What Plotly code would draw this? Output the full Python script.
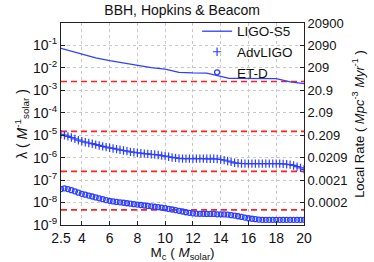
import plotly.graph_objects as go

# ---------------- data ----------------
mc_s5 = [2.5, 3, 4, 5, 6, 7, 8, 9, 10, 11, 12, 13, 14, 14.6, 15, 16, 17, 18, 19, 20]
lam_s5 = [0.074, 0.060, 0.040, 0.028, 0.021, 0.0162, 0.0132, 0.0102, 0.0089, 0.0063,
          0.0060, 0.0059, 0.0042, 0.0034, 0.0034, 0.0034, 0.0034, 0.0033, 0.0024, 0.0020]

mc = [2.5, 2.75, 3.0, 3.25, 3.5, 3.75, 4.0, 4.25, 4.5, 4.75, 5.0, 5.25, 5.5, 5.75,
      6.0, 6.25, 6.5, 6.75, 7.0, 7.25, 7.5, 7.75, 8.0, 8.25, 8.5, 8.75, 9.0, 9.25,
      9.5, 9.75, 10.0, 10.25, 10.5, 10.75, 11.0, 11.25, 11.5, 11.75, 12.0, 12.25,
      12.5, 12.75, 13.0, 13.25, 13.5, 13.75, 14.0, 14.25, 14.5, 14.75, 15.0, 15.25,
      15.5, 15.75, 16.0, 16.25, 16.5, 16.75, 17.0, 17.25, 17.5, 17.75, 18.0, 18.25,
      18.5, 18.75, 19.0, 19.25, 19.5, 19.75, 20.0]

lam_adv = [1.10e-5, 1.00e-5, 8.9e-6, 7.9e-6, 6.9e-6, 6.0e-6, 5.4e-6, 4.9e-6, 4.5e-6,
           4.2e-6, 3.8e-6, 3.5e-6, 3.2e-6, 2.95e-6, 2.75e-6, 2.57e-6, 2.40e-6, 2.24e-6,
           2.09e-6, 1.95e-6, 1.82e-6, 1.74e-6, 1.66e-6, 1.58e-6, 1.51e-6, 1.48e-6,
           1.41e-6, 1.38e-6, 1.32e-6, 1.23e-6, 1.17e-6, 1.10e-6, 1.02e-6, 9.8e-7,
           9.3e-7, 9.1e-7, 9.1e-7, 9.1e-7, 9.1e-7, 9.1e-7, 9.1e-7, 9.1e-7, 8.9e-7,
           8.9e-7, 8.9e-7, 8.7e-7, 8.3e-7, 7.8e-7, 7.1e-7, 6.5e-7, 5.9e-7, 5.6e-7,
           5.5e-7, 5.4e-7, 5.4e-7, 5.4e-7, 5.4e-7, 5.4e-7, 5.4e-7, 5.4e-7, 5.4e-7,
           5.4e-7, 5.4e-7, 5.4e-7, 5.3e-7, 5.1e-7, 4.9e-7, 4.5e-7, 4.0e-7, 3.5e-7,
           3.0e-7]

lam_et = [4.0e-8, 4.3e-8, 4.0e-8, 3.55e-8, 3.16e-8, 2.75e-8, 2.45e-8, 2.24e-8,
          2.04e-8, 1.86e-8, 1.70e-8, 1.55e-8, 1.41e-8, 1.29e-8, 1.20e-8, 1.12e-8,
          1.07e-8, 1.02e-8, 9.8e-9, 9.3e-9, 8.9e-9, 8.5e-9, 8.1e-9, 7.8e-9, 7.4e-9,
          7.1e-9, 6.8e-9, 6.5e-9, 6.2e-9, 5.9e-9, 5.6e-9, 5.2e-9, 4.9e-9, 4.6e-9,
          4.3e-9, 4.0e-9, 3.7e-9, 3.5e-9, 3.3e-9, 3.2e-9, 3.16e-9, 3.16e-9, 3.1e-9,
          3.1e-9, 3.1e-9, 3.0e-9, 3.0e-9, 2.95e-9, 2.9e-9, 2.75e-9, 2.63e-9, 2.45e-9,
          2.29e-9, 2.14e-9, 2.0e-9, 1.9e-9, 1.82e-9, 1.74e-9, 1.70e-9, 1.70e-9,
          1.70e-9, 1.70e-9, 1.70e-9, 1.70e-9, 1.70e-9, 1.70e-9, 1.70e-9, 1.70e-9,
          1.70e-9, 1.70e-9, 1.70e-9]

thresholds = [2.46e-3, 1.48e-5, 2.46e-7, 4.7e-9]
x_ends = [2.5, 20]

left_tickvals = [1e-9, 1e-8, 1e-7, 1e-6, 1e-5, 1e-4, 1e-3, 1e-2, 1e-1]
left_ticktext = ["10<sup>-9</sup>", "10<sup>-8</sup>", "10<sup>-7</sup>", "10<sup>-6</sup>",
                 "10<sup>-5</sup>", "10<sup>-4</sup>", "10<sup>-3</sup>", "10<sup>-2</sup>",
                 "10<sup>-1</sup>"]
right_tickvals = [1e0, 1e-1, 1e-2, 1e-3, 1e-4, 1e-5, 1e-6, 1e-7, 1e-8]
right_ticktext = ["20900", "2090", "209", "20.9", "2.09", "0.209", "0.0209", "0.0021", "0.0002"]
x_tickvals = [2.5, 4, 6, 8, 10, 12, 14, 16, 18, 20]
x_ticktext = ["2.5", "4", "6", "8", "10", "12", "14", "16", "18", "20"]

# ---------------- figure ----------------
BLUE = "#2e40ff"
FONT = "Liberation Sans, Arial, sans-serif"

fig = go.Figure()

for t in thresholds:
    fig.add_trace(go.Scatter(x=x_ends, y=[t, t], mode="lines",
                             line=dict(color="#ff2020", width=1.6, dash="6px,4px"),
                             showlegend=False, hoverinfo="skip"))

fig.add_trace(go.Scatter(x=mc_s5, y=lam_s5, mode="lines", name="LIGO-S5",
                         line=dict(color=BLUE, width=1.3)))
fig.add_trace(go.Scatter(x=mc, y=lam_adv, mode="markers", name="AdvLIGO",
                         marker=dict(symbol="cross-thin", size=6, color=BLUE,
                                     line=dict(color=BLUE, width=1.2))))
fig.add_trace(go.Scatter(x=mc, y=lam_et, mode="markers", name="ET-D",
                         marker=dict(symbol="circle-open", size=5, color=BLUE,
                                     line=dict(color=BLUE, width=1.3))))
# invisible trace to carry the right-hand axis
fig.add_trace(go.Scatter(x=x_ends, y=[thresholds[0], thresholds[0]], yaxis="y2",
                         mode="lines", line=dict(width=0), opacity=0,
                         showlegend=False, hoverinfo="skip"))

axis_common = dict(showline=True, linecolor="#222", linewidth=1, ticks="inside",
                   ticklen=4, tickcolor="#222", gridcolor="#c8c8c8", griddash="dot",
                   gridwidth=1, zeroline=False, automargin=False)

fig.update_layout(
    template="none",
    width=374, height=262,
    margin=dict(l=61, r=70, t=23, b=37, autoexpand=False),
    paper_bgcolor="white", plot_bgcolor="white",
    font=dict(family=FONT, size=14, color="#111"),
    title=dict(text="BBH, Hopkins & Beacom", x=0.487, xanchor="center",
               xref="container", yref="container",
               y=0.962, yanchor="middle", font=dict(size=14, family=FONT)),
    xaxis=dict(range=[2.5, 20], tickvals=x_tickvals, ticktext=x_ticktext,
               mirror=True, showgrid=True,
               title=dict(text="M<sub>c</sub> ( <i>M</i><sub>solar</sub>)", standoff=0,
                          font=dict(size=13.5)),
               tickfont=dict(size=14), **axis_common),
    yaxis=dict(type="log", range=[-9, 0], tickvals=left_tickvals,
               ticktext=left_ticktext, mirror=True, showgrid=True,
               title=dict(text="λ ( <i>M</i><sup>-1</sup><sub>solar</sub> )", standoff=2,
                          font=dict(size=14)),
               tickfont=dict(size=14), **axis_common),
    yaxis2=dict(type="log", range=[-9, 0], overlaying="y", side="right",
                tickvals=right_tickvals, ticktext=right_ticktext, showgrid=False,
                showline=True, linecolor="#222", ticks="inside", ticklen=4,
                tickcolor="#222", zeroline=False, tickfont=dict(size=13),
                automargin=False,
                title=dict(text="Local Rate ( <i>Mpc</i><sup>-3</sup> <i>Myr</i><sup>-1</sup> )",
                           standoff=8, font=dict(size=13))),
    legend=dict(x=0.56, y=1.035, xanchor="left", yanchor="top",
                bgcolor="rgba(0,0,0,0)", font=dict(size=13.5, family=FONT),
                itemwidth=30, tracegroupgap=0),
    showlegend=True,
)

fig.write_html("out.html",
               config={"displayModeBar": False},
               post_script="document.body.style.margin='0';document.body.style.padding='0';")
